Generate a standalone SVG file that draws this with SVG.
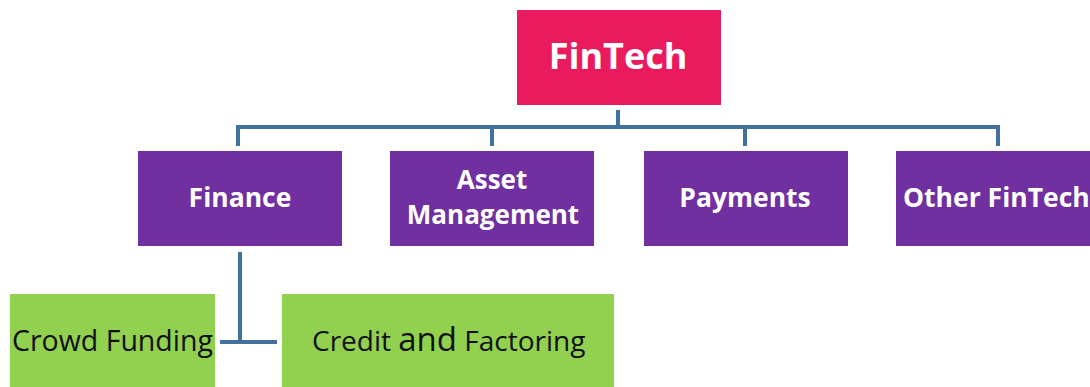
<svg xmlns="http://www.w3.org/2000/svg" width="1090" height="387" viewBox="0 0 1090 387">
<style>
.top{fill:#EA1A5E}
.mid{fill:#7030A0}
.leaf{fill:#92D050}
.wt{fill:#fff;font-family:"Open Sans","DejaVu Sans",sans-serif;font-weight:bold}
.bt{fill:#111;font-family:"Open Sans","DejaVu Sans",sans-serif}
.conn{fill:none;stroke:#41719C;stroke-width:4}
</style>
<rect width="1090" height="387" fill="#fff"/>
<g id="connectors" class="conn">
<path d="M618 110V127"/>
<path d="M238 146V127H998V146"/>
<path d="M492 127V146M745 127V146"/>
<path d="M240 252V342M220 342H277"/>
</g>
<g id="fintech"><rect class="top" x="517" y="10" width="204" height="95"/><text class="wt" x="618" y="69" font-size="36" text-anchor="middle">FinTech</text></g>
<g id="finance"><rect class="mid" x="138" y="151" width="204" height="95"/><text class="wt" x="240" y="207" font-size="26.5" text-anchor="middle">Finance</text></g>
<g id="asset"><rect class="mid" x="390" y="151" width="204" height="95"/><text class="wt" x="492" y="189" font-size="26" text-anchor="middle">Asset</text><text class="wt" x="493" y="224" font-size="26" text-anchor="middle">Management</text></g>
<g id="payments"><rect class="mid" x="644" y="151" width="204" height="95"/><text class="wt" x="745" y="207" font-size="26.5" text-anchor="middle">Payments</text></g>
<g id="other"><rect class="mid" x="896" y="151" width="200" height="95"/><text class="wt" x="903" y="207" font-size="26.5">Other FinTech</text></g>
<g id="crowd"><rect class="leaf" x="10" y="294" width="205" height="93"/><text class="bt" x="12" y="351" font-size="28.5">Crowd Funding</text></g>
<g id="credit"><rect class="leaf" x="282" y="294" width="332" height="93"/><text class="bt" x="312" y="351" font-size="28">Credit <tspan font-size="33">and</tspan> Factoring</text></g>
</svg>
